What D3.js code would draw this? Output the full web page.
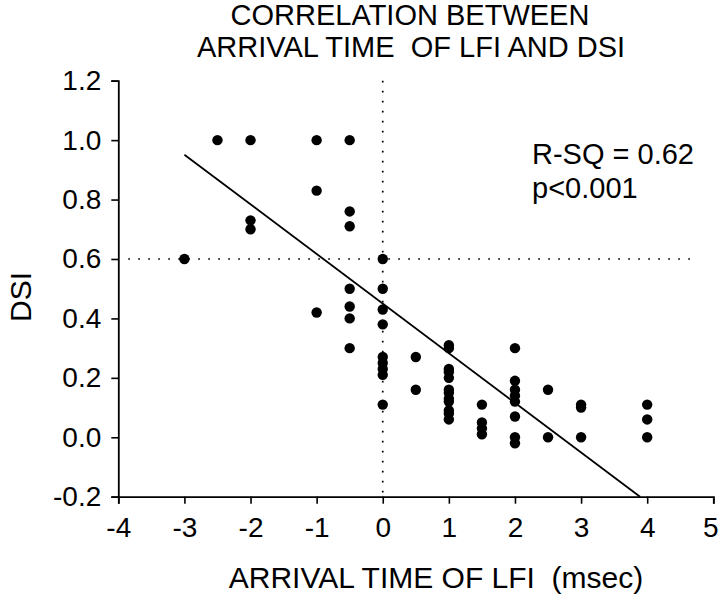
<!DOCTYPE html>
<html>
<head>
<meta charset="utf-8">
<script src="https://cdn.jsdelivr.net/npm/d3@7"></script>
<style>
  body { margin: 0; background: #fff; }
  text { font-family: "Liberation Sans", Arial, sans-serif; fill: #000; }
</style>
</head>
<body>
<div id="chart"></div>
<script>
// arrival time of LFI (msec) for each cell, and its DSI
const arrivalTimes = [
  -3,
  -2.5,
  -2, -2, -2,
  -1, -1, -1,
  -0.5, -0.5, -0.5, -0.5, -0.5, -0.5, -0.5,
  0, 0, 0, 0, 0, 0, 0, 0, 0,
  0.5, 0.5,
  1, 1, 1, 1, 1, 1, 1, 1, 1, 1, 1, 1,
  1.5, 1.5, 1.5, 1.5,
  2, 2, 2, 2, 2, 2, 2, 2,
  2.5, 2.5,
  3, 3, 3,
  4, 4, 4
];
const dsiValues = [
  0.60,
  1.00,
  1.00, 0.73, 0.70,
  1.00, 0.83, 0.42,
  1.00, 0.76, 0.71, 0.50, 0.44, 0.40, 0.30,
  0.60, 0.50, 0.43, 0.38, 0.27, 0.25, 0.23, 0.21, 0.11,
  0.27, 0.16,
  0.31, 0.30, 0.23, 0.22, 0.20, 0.16, 0.15, 0.13, 0.12, 0.09, 0.08, 0.06,
  0.11, 0.05, 0.03, 0.01,
  0.30, 0.19, 0.16, 0.14, 0.12, 0.07, 0.00, -0.02,
  0.16, 0.00,
  0.11, 0.10, 0.00,
  0.11, 0.06, 0.00
];
const xTicks = [-4, -3, -2, -1, 0, 1, 2, 3, 4, 5];
const yTicks = [-0.2, 0, 0.2, 0.4, 0.6, 0.8, 1.0, 1.2];

// fitted line: DSI = slope * time + intercept, drawn from x = -3
const fitSlope = -0.167;
const fitIntercept = 0.45;
const fitStart = -3;

// reference lines
const refX = 0;
const refY = 0.6;

const statLines = ["R-SQ = 0.62", "p<0.001"];

const width = 720, height = 595;
const margin = { top: 80.7, right: 6.7, bottom: 98.3, left: 118.3 };
const w = width - margin.left - margin.right;
const h = height - margin.top - margin.bottom;

const svg = d3.select("#chart")
  .append("svg")
  .attr("width", width)
  .attr("height", height);

// titles
const title = svg.append("text")
  .attr("text-anchor", "middle")
  .style("font-size", "29px")
  .style("white-space", "pre");
title.append("tspan").attr("x", 410).attr("y", 25).text("CORRELATION BETWEEN");
title.append("tspan").attr("x", 411).attr("y", 57).text("ARRIVAL TIME  OF LFI AND DSI");

const g = svg.append("g")
  .attr("transform", "translate(" + margin.left + "," + margin.top + ")");

const x = d3.scaleLinear().domain([-4, 5]).range([0, w]);
const y = d3.scaleLinear().domain([-0.2, 1.2]).range([h, 0]);

// axes
const xAxis = g.append("g")
  .attr("transform", "translate(0," + h + ")")
  .call(d3.axisBottom(x).tickValues(xTicks).tickSize(7).tickPadding(13));
const yAxis = g.append("g")
  .call(d3.axisLeft(y).tickValues(yTicks).tickSize(7).tickPadding(10));

[xAxis, yAxis].forEach(a => {
  a.select(".domain").attr("stroke", "#000").attr("stroke-width", 1.8);
  a.selectAll(".tick line").attr("stroke", "#000").attr("stroke-width", 1.6);
  a.selectAll(".tick text")
    .style("font-family", "'Liberation Sans', Arial, sans-serif")
    .style("font-size", "28px")
    .attr("fill", "#000");
});
// plain hyphen minus signs, as in the original
xAxis.selectAll(".tick text")
  .text(d => d < 0 ? "-" + Math.abs(d) : d)
  .attr("dx", d => d === 5 ? -3 : 0);
yAxis.selectAll(".tick text").text(d => (d < 0 ? "-" : "") + Math.abs(d).toFixed(1));

// dotted reference lines
g.append("line")
  .attr("x1", x(refX)).attr("x2", x(refX))
  .attr("y1", y(1.2)).attr("y2", y(-0.2))
  .attr("stroke", "#000").attr("stroke-width", 1.7)
  .attr("stroke-dasharray", "1.7,8.3");
g.append("line")
  .attr("x1", x(-3.85)).attr("x2", x(4.72))
  .attr("y1", y(refY)).attr("y2", y(refY))
  .attr("stroke", "#000").attr("stroke-width", 1.7)
  .attr("stroke-dasharray", "1.7,8.3");

// regression line, ends where it meets the x axis
const fitEnd = (-0.2 - fitIntercept) / fitSlope;
g.append("line")
  .attr("x1", x(fitStart)).attr("y1", y(fitSlope * fitStart + fitIntercept))
  .attr("x2", x(fitEnd)).attr("y2", y(-0.2))
  .attr("stroke", "#000").attr("stroke-width", 1.8);

// points
g.selectAll("circle")
  .data(arrivalTimes.map((t, i) => ({ t: t, v: dsiValues[i] })))
  .enter()
  .append("circle")
  .attr("cx", d => x(d.t))
  .attr("cy", d => y(d.v))
  .attr("r", 5.2)
  .attr("fill", "#000");

// stats
svg.selectAll(".stat")
  .data(statLines)
  .enter()
  .append("text")
  .attr("class", "stat")
  .attr("x", 532)
  .attr("y", (d, i) => 164 + i * 34)
  .style("font-size", "29px")
  .text(d => d);

// axis labels
svg.append("text")
  .attr("x", 436)
  .attr("y", 588)
  .attr("text-anchor", "middle")
  .style("font-size", "30px")
  .style("white-space", "pre")
  .text("ARRIVAL TIME OF LFI  (msec)");

svg.append("text")
  .attr("transform", "translate(31,297) rotate(-90)")
  .attr("text-anchor", "middle")
  .style("font-size", "30px")
  .text("DSI");
</script>
</body>
</html>
